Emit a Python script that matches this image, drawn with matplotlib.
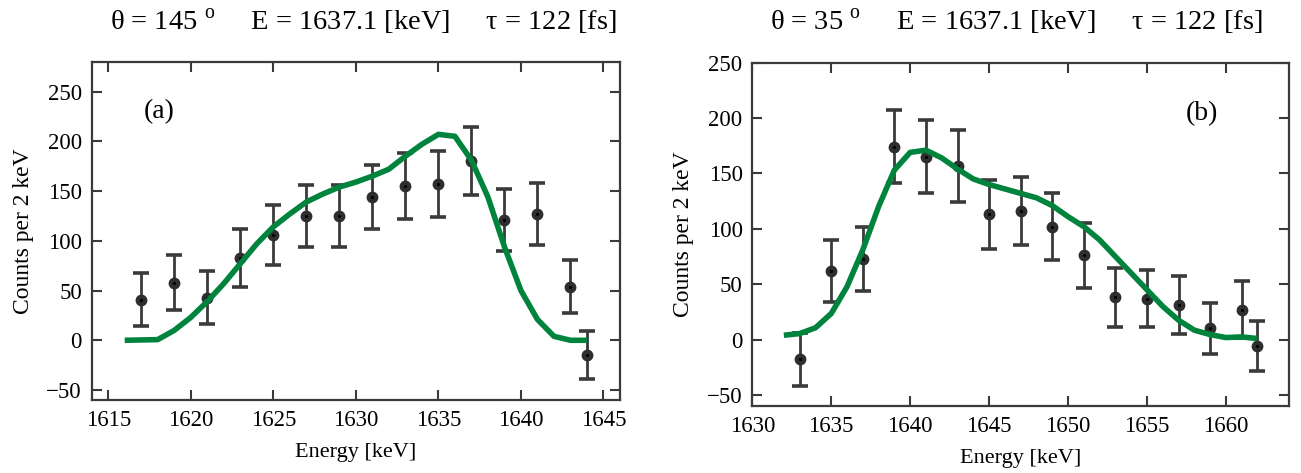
import numpy as np
import matplotlib
matplotlib.use('Agg')
import matplotlib.pyplot as plt

# ============ #
# === Data === #
# ============ #

# panel (a), theta = 145 deg
e_a   = [1617, 1619, 1621, 1623, 1625, 1627, 1629, 1631, 1633, 1635, 1637, 1639, 1641, 1643, 1644]
cnt_a = [41, 58, 43, 83, 106, 125, 125, 144, 155, 157, 180, 121, 127, 54, -15]
err_a = [27, 28, 27, 29, 30, 31, 31, 32, 33, 33, 34, 31, 31, 27, 24]

fit_e_a = [1616, 1618, 1619, 1620, 1621, 1622, 1623, 1624, 1625, 1626, 1627, 1628, 1629, 1630,
           1631, 1632, 1633, 1634, 1635, 1636, 1637, 1638, 1639, 1640, 1641, 1642, 1643, 1644]
fit_a   = [0, 0.7, 10, 23, 39, 57, 77, 97, 114, 127, 139, 147, 154, 159,
           165, 172, 185, 197, 207, 205, 181, 144, 94, 50, 21, 4, 0, 0]

# panel (b), theta = 35 deg
e_b   = [1633, 1635, 1637, 1639, 1641, 1643, 1645, 1647, 1649, 1651, 1653, 1655, 1657, 1659, 1661, 1662]
cnt_b = [-18, 62, 73, 174, 165, 157, 113, 116, 102, 76, 38, 37, 31, 10, 27, -6]
err_b = [24, 28, 29, 33, 33, 32.5, 31, 31, 30, 29, 27, 26, 26, 23, 25.5, 22.7]

fit_e_b = list(range(1632, 1663))
fit_b   = [3.9, 5.4, 10.6, 23.5, 47.7, 81, 120, 153, 169, 171, 164, 154, 145, 140, 136, 132,
           128, 121, 111, 102, 90, 75, 60, 45, 30, 17.5, 8.5, 4.5, 1.8, 2.4, 0.9]

titles = [r'θ = 145 $^{\mathrm{o}}$     E = 1637.1 [keV]     τ = 122 [fs]',
          r'θ = 35 $^{\mathrm{o}}$     E = 1637.1 [keV]     τ = 122 [fs]']
tags = ['(a)', '(b)']
xticks = [np.arange(1615, 1646, 5), np.arange(1630, 1661, 5)]

# ============== #
# === Style  === #
# ============== #

plt.rcParams['font.family'] = ['Liberation Serif', 'DejaVu Serif']
plt.rcParams['mathtext.fontset'] = 'custom'
plt.rcParams['mathtext.rm'] = 'Liberation Serif'

DARK = '#3a3a3a'
GREEN = '#00843d'

fig = plt.figure(figsize=(13.01, 4.73), dpi=100)
W, H = 1301, 473
boxes = [(91.7, 61.7, 620, 400), (752.3, 62.7, 1289, 406)]
axes = [fig.add_axes([l / W, 1 - b / H, (r - l) / W, (b - t) / H]) for l, t, r, b in boxes]

panels = [
    (e_a, cnt_a, err_a, fit_e_a, fit_a, (1614, 1646), (-60, 280), 0.127, 0.852),
    (e_b, cnt_b, err_b, fit_e_b, fit_b, (1630, 1664), (-60, 250), 0.837, 0.851),
]
title_x = [363, 1016]

for ax, (e, c, err, fe, f, xl, yl, tx, ty), title, tag, xt, cx in zip(axes, panels, titles, tags, xticks, title_x):
    ax.errorbar(e, c, yerr=err, fmt='none', ecolor=DARK, elinewidth=2.0,
                capsize=5.8, capthick=2.6, zorder=2)
    ax.plot(e, c, 'o', color='#2e2e2e', markersize=7.5, zorder=3)
    ax.plot(e, c, '.', color='black', markersize=2.5, zorder=4)
    ax.plot(fe, f, color=GREEN, lw=4.0, zorder=5, solid_capstyle='butt')

    ax.set_xlim(*xl)
    ax.set_ylim(*yl)
    ax.set_yticks([-50, 0, 50, 100, 150, 200, 250])
    ax.set_xticks(xt)
    ax.tick_params(direction='in', length=7, width=1.5, color=DARK,
                   top=True, right=True, labelsize=16.5, pad=7)
    for s in ax.spines.values():
        s.set_color(DARK)
        s.set_linewidth(1.6)
    ax.set_xlabel('Energy [keV]', fontsize=16, labelpad=9)
    ax.set_ylabel('Counts per 2 keV', fontsize=17, labelpad=9)
    ax.text(tx, ty, tag, transform=ax.transAxes, fontsize=20, ha='center', va='center')

    fig.text(cx / W, 1 - 22 / H, title, fontsize=20.5, ha='center', va='center')

fig.savefig('out.png', dpi=100)
